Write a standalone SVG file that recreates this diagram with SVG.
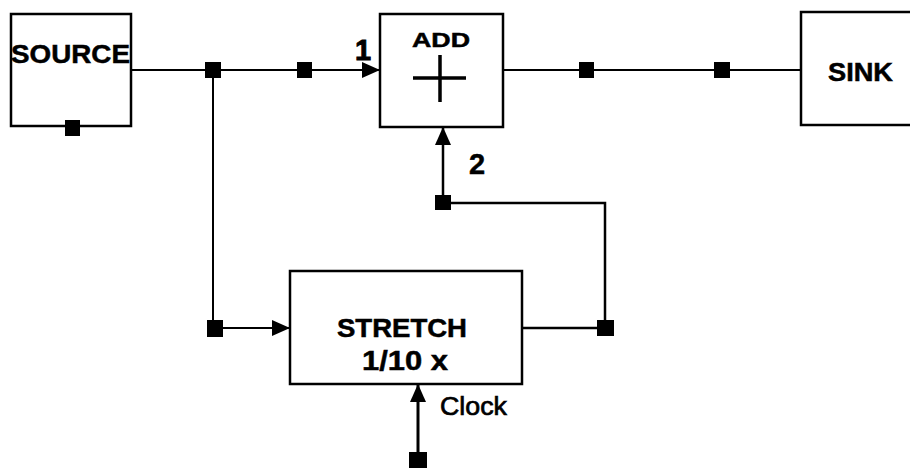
<svg xmlns="http://www.w3.org/2000/svg" width="910" height="468" viewBox="0 0 910 468">
<style>
.box{fill:#fff;stroke:#000;stroke-width:2.5}
.wire{fill:none;stroke:#000;stroke-width:2}
.dot{fill:#000}
.lbl{font-family:"Liberation Sans",Arial,sans-serif;font-weight:bold;fill:#000;stroke:#000;stroke-width:0.5}
.plain{font-family:"Liberation Sans",Arial,sans-serif;fill:#000;stroke:#000;stroke-width:0.7}
</style>
<defs>
<marker id="arr" markerUnits="userSpaceOnUse" markerWidth="20" markerHeight="16" refX="18" refY="8" orient="auto">
<path d="M0,0 L18,8 L0,16 Z" fill="#000"/>
</marker>
</defs>
<g id="source">
<rect class="box" x="11" y="14" width="120" height="112"/>
<text class="lbl" x="11" y="63" font-size="26" textLength="119" lengthAdjust="spacingAndGlyphs">SOURCE</text>
</g>
<g id="add">
<rect class="box" x="380" y="14" width="123" height="113"/>
<text class="lbl" x="441" y="47" font-size="21" text-anchor="middle" textLength="58" lengthAdjust="spacingAndGlyphs">ADD</text>
<path d="M413,78 H466 M440,55 V102" stroke="#000" stroke-width="3.5" fill="none"/>
</g>
<g id="sink">
<rect class="box" x="801" y="12" width="120" height="113"/>
<text class="lbl" x="828" y="81" font-size="25" textLength="65" lengthAdjust="spacingAndGlyphs">SINK</text>
</g>
<g id="stretch">
<rect class="box" x="290" y="271" width="232" height="113"/>
<text class="lbl" x="337" y="337" font-size="26" textLength="130" lengthAdjust="spacingAndGlyphs">STRETCH</text>
<text class="lbl" x="362" y="370" font-size="28" textLength="86" lengthAdjust="spacingAndGlyphs">1/10 x</text>
</g>
<g id="connectors">
<path class="wire" d="M131,70 H213"/>
<path class="wire" d="M213,70 H380" marker-end="url(#arr)"/>
<path class="wire" d="M213,70 V328 H290" marker-end="url(#arr)"/>
<path class="wire" d="M503,70 H801"/>
<path class="wire" d="M522,328 H605 V203 H443 V127" style="stroke-width:2.5" marker-end="url(#arr)"/>
<path class="wire" d="M418,460 V384" style="stroke-width:3" marker-end="url(#arr)"/>
<rect class="dot" x="65" y="120" width="15" height="16"/>
<rect class="dot" x="205" y="62" width="16" height="16"/>
<rect class="dot" x="297" y="62" width="15" height="16"/>
<rect class="dot" x="579" y="62" width="15" height="16"/>
<rect class="dot" x="714" y="62" width="16" height="16"/>
<rect class="dot" x="207" y="320" width="16" height="17"/>
<rect class="dot" x="597" y="320" width="17" height="16"/>
<rect class="dot" x="435" y="195" width="16" height="15"/>
<rect class="dot" x="409" y="452" width="18" height="18"/>
<text class="lbl" x="355" y="60" font-size="29" font-weight="normal" style="stroke-width:0.9">1</text>
<text class="lbl" x="469" y="174" font-size="29">2</text>
<text class="plain" x="440" y="415" font-size="26" textLength="67" lengthAdjust="spacingAndGlyphs">Clock</text>
</g>
</svg>
